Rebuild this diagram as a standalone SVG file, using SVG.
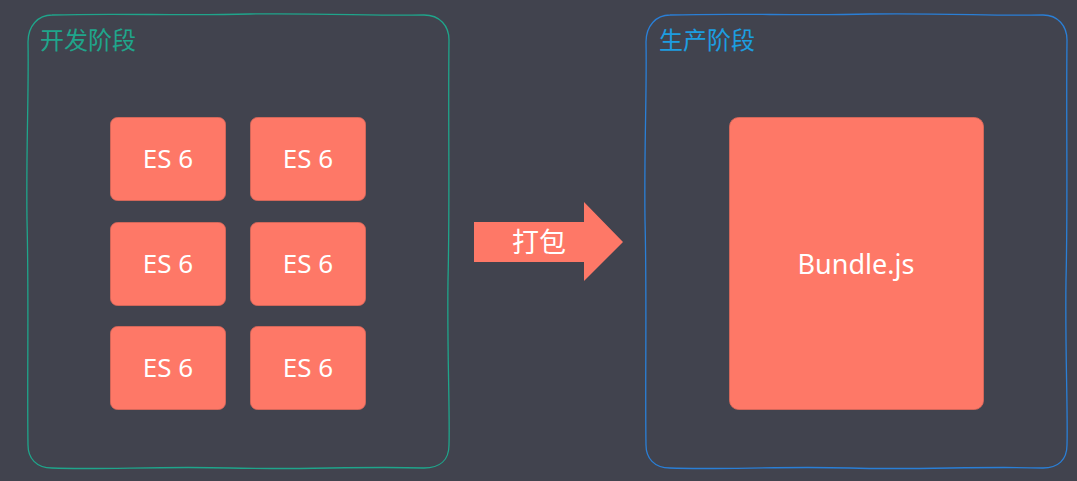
<svg xmlns="http://www.w3.org/2000/svg" width="1077" height="481" viewBox="0 0 1077 481">
<style>
.bg{fill:#41434e}
.frame{fill:none;stroke-width:1.3}
.box{fill:#fe7867;stroke:#e06a5a;stroke-width:0.8}
.lbl{font-family:"Noto Sans","Open Sans","Noto Sans CJK SC",sans-serif;fill:#ffffff;text-anchor:middle}
.ttl{font-family:"Noto Sans CJK SC","Noto Sans",sans-serif;font-size:24px}
</style>
<rect class="bg" x="0" y="0" width="1077" height="481"/>
<g id="dev-stage">
<path class="frame" stroke="#1fa58b" d="M52 15 C120 13 180 16 250 14 C320 13 380 16 424 15 C440 15 449 26 449 40 C448 120 450 200 448 280 C447 350 450 410 449 445 C449 460 440 468 424 468 C360 466 300 470 230 468 C160 466 100 470 52 468 C36 468 28 458 28 445 C27 380 29 300 27 220 C26 150 29 90 28 42 C28 26 38 15 52 15 Z"/>
<text class="ttl" x="40" y="49" fill="#1fa58b">开发阶段</text>
</g>
<g id="prod-stage">
<path class="frame" stroke="#2a7fd6" d="M670 15 C740 13 800 16 870 14 C940 13 1000 16 1043 15 C1058 15 1067 26 1067 40 C1066 120 1068 200 1066 280 C1065 350 1068 410 1067 445 C1067 460 1058 468 1043 468 C980 466 920 470 850 468 C780 466 720 470 670 468 C654 468 646 458 646 445 C645 380 647 300 645 220 C644 150 647 90 646 42 C646 26 656 15 670 15 Z"/>
<text class="ttl" x="659" y="49" fill="#1c9de0">生产阶段</text>
</g>
<g id="es6-1"><rect class="box" x="110.5" y="117.5" width="115" height="83" rx="7"/><text class="lbl" x="168" y="168" font-size="26">ES 6</text></g>
<g id="es6-2"><rect class="box" x="250.5" y="117.5" width="115" height="83" rx="7"/><text class="lbl" x="308" y="168" font-size="26">ES 6</text></g>
<g id="es6-3"><rect class="box" x="110.5" y="222.5" width="115" height="83" rx="7"/><text class="lbl" x="168" y="273" font-size="26">ES 6</text></g>
<g id="es6-4"><rect class="box" x="250.5" y="222.5" width="115" height="83" rx="7"/><text class="lbl" x="308" y="273" font-size="26">ES 6</text></g>
<g id="es6-5"><rect class="box" x="110.5" y="326.5" width="115" height="83" rx="7"/><text class="lbl" x="168" y="377" font-size="26">ES 6</text></g>
<g id="es6-6"><rect class="box" x="250.5" y="326.5" width="115" height="83" rx="7"/><text class="lbl" x="308" y="377" font-size="26">ES 6</text></g>
<g id="bundle"><rect class="box" x="729.5" y="117.5" width="254" height="292" rx="9"/><text class="lbl" x="856" y="274" font-size="27">Bundle.js</text></g>
<g id="connectors">
<g id="pack-arrow">
<polygon fill="#fe7867" points="474,222 584,222 584,202 623,242 584,281 584,262 474,262"/>
<text class="lbl" x="539" y="252" font-size="27" style="font-family:'Noto Sans CJK SC',sans-serif">打包</text>
</g>
</g>
</svg>
